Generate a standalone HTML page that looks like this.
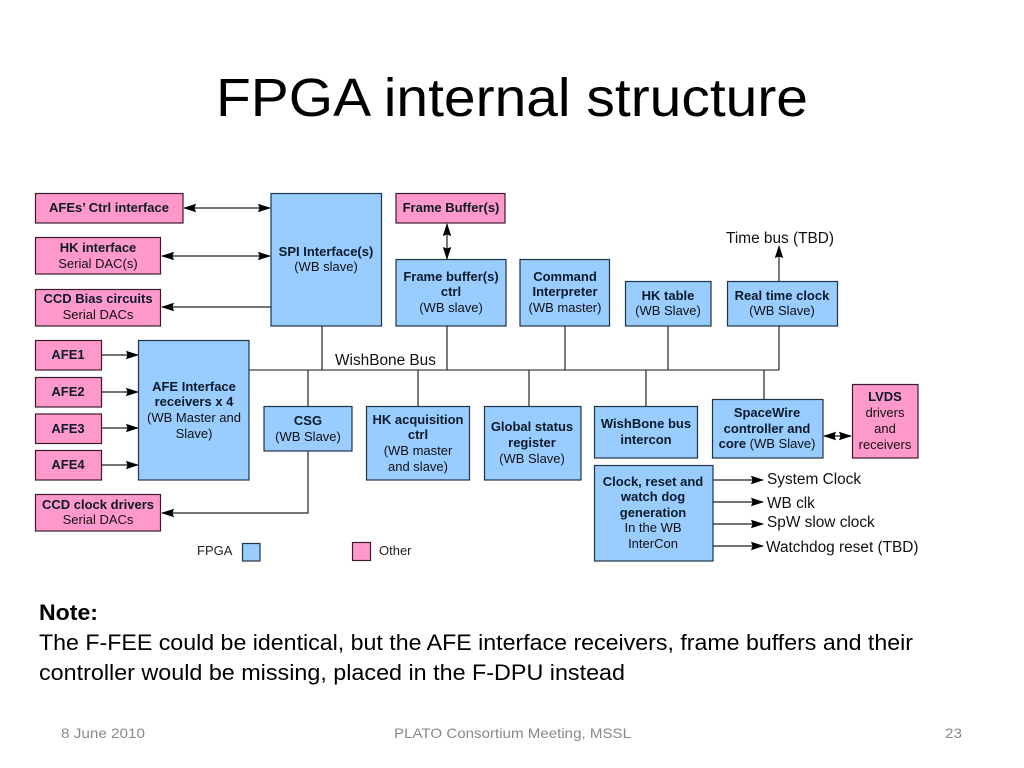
<!DOCTYPE html>
<html><head><meta charset="utf-8"><style>
html,body{margin:0;padding:0;background:#fff}
svg{display:block}
text{font-family:"Liberation Sans",sans-serif}
.b{fill:#99ccff;stroke:#1f3347;stroke-width:1.2}
.p{fill:#ff99cc;stroke:#3a1a2c;stroke-width:1.2}
.l{stroke:#222;stroke-width:1.2;fill:none}
.t{font-size:13px;text-anchor:middle;fill:#111}
.t .h{font-weight:bold;fill:#0c1a2a}
.lab{font-size:15.4px;fill:#111}
.foot{font-size:14px;fill:#888}
.note{font-size:22px;fill:#000}
</style></head><body>
<svg width="1024" height="768" viewBox="0 0 1024 768" xmlns="http://www.w3.org/2000/svg">
<defs>
<marker id="a" markerWidth="13" markerHeight="9" refX="12" refY="4.5" orient="auto-start-reverse" markerUnits="userSpaceOnUse"><path d="M0 0.3L13 4.5L0 8.700L1.500 4.500Z" fill="#000"/></marker>
</defs>
<rect width="1024" height="768" fill="#fff"/>
<text x="216" y="116" font-size="54" textLength="592" lengthAdjust="spacingAndGlyphs" fill="#000">FPGA internal structure</text>

<!-- connectors -->
<g class="l">
<path d="M184 208H270" marker-start="url(#a)" marker-end="url(#a)"/>
<path d="M162 256H270" marker-start="url(#a)" marker-end="url(#a)"/>
<path d="M271 307H162" marker-end="url(#a)"/>
<path d="M102 355H138" marker-end="url(#a)"/>
<path d="M102 392H138" marker-end="url(#a)"/>
<path d="M102 428H138" marker-end="url(#a)"/>
<path d="M102 465H138" marker-end="url(#a)"/>
<path d="M249 370H779" stroke="#444"/>
<path d="M322 326V370M447 326V370M565 326V370M668 326V370M779 281V370"/>
<path d="M779 281V246" marker-end="url(#a)"/>
<path d="M447 224V259" marker-start="url(#a)" marker-end="url(#a)"/>
<path d="M308 370V406M418 370V406M529 370V406M646 370V406M764 370V399"/>
<path d="M308 451V513H162" marker-end="url(#a)"/>
<path d="M824 436H851" marker-start="url(#a)" marker-end="url(#a)"/>
<path d="M713 480H763" marker-end="url(#a)"/>
<path d="M713 502H763" marker-end="url(#a)"/>
<path d="M713 524H763" marker-end="url(#a)"/>
<path d="M713 546H763" marker-end="url(#a)"/>
</g>

<!-- pink -->
<rect class="p" x="35.500" y="193.500" width="147.500" height="29.500"/>
<rect class="p" x="35.500" y="237.500" width="125" height="36.500"/>
<rect class="p" x="35.500" y="289.500" width="125" height="36.500"/>
<rect class="p" x="35.500" y="340.500" width="66" height="29.500"/>
<rect class="p" x="35.500" y="377.500" width="66" height="29.500"/>
<rect class="p" x="35.500" y="414" width="66" height="29.500"/>
<rect class="p" x="35.500" y="450.500" width="66" height="29.500"/>
<rect class="p" x="35.500" y="494.500" width="125" height="36.500"/>
<rect class="p" x="396" y="193.500" width="109" height="29.500"/>
<rect class="p" x="852.500" y="384.500" width="65.500" height="73.500"/>
<rect class="p" x="352.500" y="542.500" width="18" height="18"/>

<!-- blue -->
<rect class="b" x="271" y="193.500" width="110.500" height="132.500"/>
<rect class="b" x="138.500" y="340.500" width="110.500" height="139.500"/>
<rect class="b" x="396" y="259.500" width="110" height="66.500"/>
<rect class="b" x="520" y="259.500" width="89.500" height="66.500"/>
<rect class="b" x="625.500" y="281.500" width="85.500" height="44.500"/>
<rect class="b" x="727.500" y="281.500" width="110" height="44.500"/>
<rect class="b" x="264" y="406.500" width="88" height="44.500"/>
<rect class="b" x="366.500" y="406.500" width="103" height="73.500"/>
<rect class="b" x="484.500" y="406.500" width="96.500" height="73.500"/>
<rect class="b" x="594.500" y="406.500" width="103" height="51.500"/>
<rect class="b" x="712.500" y="399.500" width="110.500" height="58.500"/>
<rect class="b" x="594.500" y="465.500" width="118.500" height="95.500"/>
<rect class="b" x="242.500" y="543.500" width="17.500" height="17.500"/>

<!-- labels -->
<g class="t">
<text x="109" y="212"><tspan class="h">AFEs’ Ctrl interface</tspan></text>
<text x="98" y="252"><tspan class="h">HK interface</tspan></text>
<text x="98" y="268">Serial DAC(s)</text>
<text x="98" y="303"><tspan class="h">CCD Bias circuits</tspan></text>
<text x="98" y="319">Serial DACs</text>
<text x="68" y="359"><tspan class="h">AFE1</tspan></text>
<text x="68" y="396"><tspan class="h">AFE2</tspan></text>
<text x="68" y="433"><tspan class="h">AFE3</tspan></text>
<text x="68" y="469"><tspan class="h">AFE4</tspan></text>
<text x="98" y="509"><tspan class="h">CCD clock drivers</tspan></text>
<text x="98" y="524">Serial DACs</text>
<text x="326" y="256"><tspan class="h">SPI Interface(s)</tspan></text>
<text x="326" y="271">(WB slave)</text>
<text x="194" y="391"><tspan class="h">AFE Interface</tspan></text>
<text x="194" y="406"><tspan class="h">receivers x 4</tspan></text>
<text x="194" y="422">(WB Master and</text>
<text x="194" y="438">Slave)</text>
<text x="451" y="212"><tspan class="h">Frame Buffer(s)</tspan></text>
<text x="451" y="281"><tspan class="h">Frame buffer(s)</tspan></text>
<text x="451" y="296"><tspan class="h">ctrl</tspan></text>
<text x="451" y="312">(WB slave)</text>
<text x="565" y="281"><tspan class="h">Command</tspan></text>
<text x="565" y="296"><tspan class="h">Interpreter</tspan></text>
<text x="565" y="312">(WB master)</text>
<text x="668" y="300"><tspan class="h">HK table</tspan></text>
<text x="668" y="315">(WB Slave)</text>
<text x="782" y="300"><tspan class="h">Real time clock</tspan></text>
<text x="782" y="315">(WB Slave)</text>
<text x="308" y="425"><tspan class="h">CSG</tspan></text>
<text x="308" y="441">(WB Slave)</text>
<text x="418" y="424"><tspan class="h">HK acquisition</tspan></text>
<text x="418" y="439"><tspan class="h">ctrl</tspan></text>
<text x="418" y="455">(WB master</text>
<text x="418" y="471">and slave)</text>
<text x="532" y="431"><tspan class="h">Global status</tspan></text>
<text x="532" y="447"><tspan class="h">register</tspan></text>
<text x="532" y="463">(WB Slave)</text>
<text x="646" y="428"><tspan class="h">WishBone bus</tspan></text>
<text x="646" y="444"><tspan class="h">intercon</tspan></text>
<text x="767" y="417"><tspan class="h">SpaceWire</tspan></text>
<text x="767" y="433"><tspan class="h">controller and</tspan></text>
<text x="767" y="448"><tspan class="h">core</tspan> (WB Slave)</text>
<text x="885" y="401"><tspan class="h">LVDS</tspan></text>
<text x="885" y="417">drivers</text>
<text x="885" y="433">and</text>
<text x="885" y="449">receivers</text>
<text x="653" y="486"><tspan class="h">Clock, reset and</tspan></text>
<text x="653" y="501"><tspan class="h">watch dog</tspan></text>
<text x="653" y="517"><tspan class="h">generation</tspan></text>
<text x="653" y="532">In the WB</text>
<text x="653" y="548">InterCon</text>
</g>
<text x="197" y="555" font-size="13" fill="#222">FPGA</text>
<text x="379" y="555" font-size="13" fill="#222">Other</text>
<text class="lab" x="726" y="243">Time bus (TBD)</text>
<text class="lab" x="335" y="365">WishBone Bus</text>
<text class="lab" x="767" y="484">System Clock</text>
<text class="lab" x="767" y="508">WB clk</text>
<text class="lab" x="767" y="527">SpW slow clock</text>
<text class="lab" x="766" y="552">Watchdog reset (TBD)</text>

<!-- note -->
<text class="note" x="39" y="620" font-weight="bold" textLength="59" lengthAdjust="spacingAndGlyphs">Note:</text>
<text class="note" x="39" y="650" textLength="874" lengthAdjust="spacingAndGlyphs">The F-FEE could be identical, but the AFE interface receivers, frame buffers and their</text>
<text class="note" x="39" y="680" textLength="586" lengthAdjust="spacingAndGlyphs">controller would be missing, placed in the F-DPU instead</text>

<!-- footer -->
<text class="foot" x="61" y="738" textLength="84" lengthAdjust="spacingAndGlyphs">8 June 2010</text>
<text class="foot" x="394" y="738" textLength="237" lengthAdjust="spacingAndGlyphs">PLATO Consortium Meeting, MSSL</text>
<text class="foot" x="945" y="738" textLength="17" lengthAdjust="spacingAndGlyphs">23</text>
</svg>
</body></html>
